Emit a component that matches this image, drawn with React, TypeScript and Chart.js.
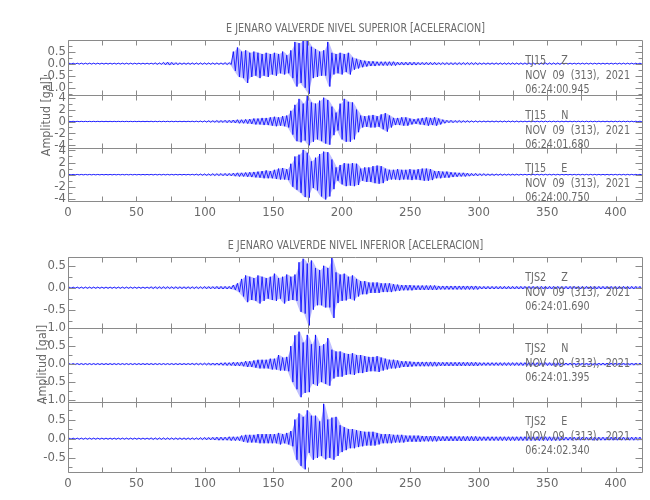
import React, { useEffect, useRef } from "react";
import { Chart, registerables } from "chart.js";

Chart.register(...registerables);

// ---------- data (3-second bins: max / min acceleration read from the records) ----------
const BIN_SECONDS = 3;
const X_MIN = 0;
const X_MAX = 420;
const X_LABEL_STEP = 50;
const X_TICK_STEP = 25;

const UPPER_TITLE = "E JENARO VALVERDE NIVEL SUPERIOR [ACELERACION]";
const LOWER_TITLE = "E JENARO VALVERDE NIVEL INFERIOR [ACELERACION]";
const Y_LABEL = "Amplitud [gal]";

const UPPER_STATION = "TJ15";
const LOWER_STATION = "TJS2";
const COMPONENTS = ["Z", "N", "E"];
const DATE_LINE = "NOV  09  (313),  2021";
const UPPER_TIMES = ["06:24:00.945", "06:24:01.680", "06:24:00.750"];
const LOWER_TIMES = ["06:24:01.690", "06:24:01.395", "06:24:02.340"];

const UPPER_Z_MAX = [
  .02,.02,.02,.02,.02,.02,.02,.02,.02,.02,
  .02,.02,.02,.02,.02,.02,.02,.02,.02,.02,
  .02,.03,.03,.05,.06,.05,.04,.03,.03,.03,
  .03,.03,.03,.03,.03,.03,.03,.03,.04,.04,
  .5,.67,.5,.55,.45,.5,.45,.4,.45,.4,
  .45,.4,.5,.35,.55,.9,.85,.95,.97,.7,
  .6,.5,.55,.9,.45,.4,.45,.4,.45,.25,
  .2,.15,.12,.1,.1,.08,.08,.08,.08,.08,
  .06,.06,.06,.06,.06,.05,.05,.05,.05,.05,
  .04,.04,.04,.04,.04,.04,.04,.04,.04,.04,
  .03,.03,.03,.03,.03,.03,.03,.03,.03,.03,
  .03,.03,.03,.03,.03,.03,.03,.03,.03,.03,
  .02,.02,.02,.02,.02,.02,.02,.02,.02,.02,
  .02,.02,.02,.02,.02,.02,.02,.02,.02,.02,
];
const UPPER_Z_MIN = [
  -.02,-.02,-.02,-.02,-.02,-.02,-.02,-.02,-.02,-.02,
  -.02,-.02,-.02,-.02,-.02,-.02,-.02,-.02,-.02,-.02,
  -.02,-.03,-.03,-.05,-.06,-.05,-.04,-.03,-.03,-.03,
  -.03,-.03,-.03,-.03,-.03,-.03,-.03,-.03,-.04,-.04,
  -.3,-.55,-.6,-.8,-.55,-.5,-.6,-.5,-.55,-.45,
  -.5,-.4,-.45,-.4,-.6,-.95,-.8,-1.0,-1.25,-.6,
  -.55,-.5,-.5,-.95,-.45,-.4,-.45,-.35,-.45,-.25,
  -.2,-.15,-.12,-.1,-.1,-.08,-.08,-.08,-.08,-.08,
  -.06,-.06,-.06,-.06,-.06,-.05,-.05,-.05,-.05,-.05,
  -.04,-.04,-.04,-.04,-.04,-.04,-.04,-.04,-.04,-.04,
  -.03,-.03,-.03,-.03,-.03,-.03,-.03,-.03,-.03,-.03,
  -.03,-.03,-.03,-.03,-.03,-.03,-.03,-.03,-.03,-.03,
  -.02,-.02,-.02,-.02,-.02,-.02,-.02,-.02,-.02,-.02,
  -.02,-.02,-.02,-.02,-.02,-.02,-.02,-.02,-.02,-.02,
];

const UPPER_N_MAX = [
  .03,.03,.03,.03,.03,.03,.03,.03,.03,.03,
  .03,.03,.03,.03,.03,.03,.03,.03,.03,.03,
  .04,.04,.04,.04,.04,.04,.04,.04,.04,.04,
  .05,.06,.08,.1,.12,.12,.15,.15,.2,.2,
  .25,.3,.3,.35,.4,.5,.5,.6,.6,.7,
  .8,.7,.9,1.0,1.8,2.8,3.8,3.0,4.4,3.2,
  3.0,3.5,4.0,3.6,2.5,1.5,3.0,3.8,3.3,3.2,
  2.0,1.0,.9,1.0,1.1,.9,1.2,1.4,1.0,.6,
  .6,.7,.7,.5,.4,.5,.6,.7,.6,.7,
  .5,.3,.2,.2,.15,.15,.12,.12,.1,.1,
  .08,.08,.08,.08,.08,.08,.08,.08,.08,.08,
  .06,.06,.06,.06,.06,.06,.06,.06,.06,.06,
  .05,.05,.05,.05,.05,.05,.05,.05,.05,.05,
  .05,.05,.05,.05,.05,.05,.05,.05,.05,.05,
];
const UPPER_N_MIN = [
  -.03,-.03,-.03,-.03,-.03,-.03,-.03,-.03,-.03,-.03,
  -.03,-.03,-.03,-.03,-.03,-.03,-.03,-.03,-.03,-.03,
  -.04,-.04,-.04,-.04,-.04,-.04,-.04,-.04,-.04,-.04,
  -.05,-.06,-.08,-.1,-.12,-.12,-.15,-.15,-.2,-.2,
  -.25,-.3,-.3,-.35,-.4,-.5,-.5,-.6,-.6,-.7,
  -.8,-.7,-.8,-1.0,-2.2,-3.3,-3.5,-3.2,-4.0,-3.4,
  -3.0,-3.3,-3.7,-3.9,-2.3,-1.5,-3.0,-3.4,-3.4,-3.0,
  -1.8,-1.0,-.9,-1.0,-1.0,-.9,-1.3,-1.7,-1.0,-.6,
  -.6,-.7,-.7,-.5,-.4,-.5,-.6,-.7,-.6,-.7,
  -.5,-.3,-.2,-.2,-.15,-.15,-.12,-.12,-.1,-.1,
  -.08,-.08,-.08,-.08,-.08,-.08,-.08,-.08,-.08,-.08,
  -.06,-.06,-.06,-.06,-.06,-.06,-.06,-.06,-.06,-.06,
  -.05,-.05,-.05,-.05,-.05,-.05,-.05,-.05,-.05,-.05,
  -.05,-.05,-.05,-.05,-.05,-.05,-.05,-.05,-.05,-.05,
];

const UPPER_E_MAX = [
  .04,.04,.04,.04,.04,.04,.04,.04,.04,.04,
  .04,.04,.04,.04,.04,.04,.04,.04,.04,.04,
  .05,.05,.05,.05,.05,.05,.05,.05,.05,.05,
  .06,.08,.1,.12,.12,.15,.15,.18,.2,.2,
  .25,.3,.3,.35,.4,.45,.5,.6,.7,.6,
  .8,1.0,1.1,.9,1.8,3.0,3.3,4.1,3.6,2.2,
  2.8,3.4,3.8,3.7,2.5,1.2,1.6,1.9,1.8,1.9,
  1.8,1.0,1.2,1.2,1.4,1.5,1.4,1.0,.8,.8,
  .9,.8,.8,.9,.8,.9,1.0,1.0,.9,.6,
  .6,.5,.5,.4,.35,.3,.3,.25,.2,.2,
  .15,.15,.12,.12,.1,.1,.08,.08,.08,.08,
  .06,.06,.06,.06,.06,.06,.06,.06,.06,.06,
  .05,.05,.05,.05,.05,.05,.05,.05,.05,.05,
  .05,.05,.05,.05,.05,.05,.05,.05,.05,.05,
];
const UPPER_E_MIN = [
  -.04,-.04,-.04,-.04,-.04,-.04,-.04,-.04,-.04,-.04,
  -.04,-.04,-.04,-.04,-.04,-.04,-.04,-.04,-.04,-.04,
  -.05,-.05,-.05,-.05,-.05,-.05,-.05,-.05,-.05,-.05,
  -.06,-.08,-.1,-.12,-.12,-.15,-.15,-.18,-.2,-.2,
  -.25,-.3,-.3,-.35,-.4,-.45,-.5,-.6,-.6,-.6,
  -.7,-.8,-.8,-.9,-2.0,-2.5,-3.0,-3.7,-3.8,-2.2,
  -2.6,-3.6,-4.1,-3.6,-2.4,-1.0,-1.6,-1.9,-1.8,-1.9,
  -1.7,-1.0,-1.2,-1.2,-1.4,-1.5,-1.4,-1.0,-.8,-.8,
  -.9,-.8,-.8,-.9,-.8,-.9,-1.0,-1.0,-.9,-.6,
  -.6,-.5,-.5,-.4,-.35,-.3,-.3,-.25,-.2,-.2,
  -.15,-.15,-.12,-.12,-.1,-.1,-.08,-.08,-.08,-.08,
  -.06,-.06,-.06,-.06,-.06,-.06,-.06,-.06,-.06,-.06,
  -.05,-.05,-.05,-.05,-.05,-.05,-.05,-.05,-.05,-.05,
  -.05,-.05,-.05,-.05,-.05,-.05,-.05,-.05,-.05,-.05,
];

const LOWER_Z_MAX = [
  .015,.015,.015,.015,.015,.015,.015,.015,.015,.015,
  .015,.015,.015,.015,.015,.015,.015,.015,.015,.015,
  .02,.02,.02,.02,.02,.02,.02,.02,.02,.02,
  .02,.02,.02,.025,.025,.025,.03,.03,.03,.03,
  .06,.1,.2,.28,.25,.22,.28,.25,.22,.25,
  .32,.22,.25,.3,.25,.3,.58,.66,.55,.62,
  .45,.4,.5,.45,.68,.35,.3,.32,.25,.28,
  .2,.15,.15,.12,.12,.12,.1,.1,.1,.08,
  .07,.06,.06,.06,.05,.05,.05,.05,.05,.05,
  .04,.04,.04,.04,.04,.04,.04,.04,.04,.04,
  .03,.03,.03,.03,.03,.03,.03,.03,.03,.03,
  .03,.03,.03,.03,.03,.03,.03,.03,.03,.03,
  .03,.03,.03,.03,.03,.03,.03,.03,.03,.03,
  .03,.03,.03,.03,.03,.03,.03,.03,.03,.03,
];
const LOWER_Z_MIN = [
  -.015,-.015,-.015,-.015,-.015,-.015,-.015,-.015,-.015,-.015,
  -.015,-.015,-.015,-.015,-.015,-.015,-.015,-.015,-.015,-.015,
  -.02,-.02,-.02,-.02,-.02,-.02,-.02,-.02,-.02,-.02,
  -.02,-.02,-.02,-.025,-.025,-.025,-.03,-.03,-.03,-.03,
  -.05,-.1,-.2,-.33,-.28,-.3,-.36,-.3,-.25,-.28,
  -.3,-.25,-.36,-.3,-.28,-.3,-.55,-.59,-.86,-.5,
  -.4,-.4,-.45,-.45,-.69,-.35,-.3,-.29,-.25,-.29,
  -.2,-.15,-.15,-.12,-.12,-.12,-.1,-.1,-.1,-.08,
  -.07,-.06,-.06,-.06,-.05,-.05,-.05,-.05,-.05,-.05,
  -.04,-.04,-.04,-.04,-.04,-.04,-.04,-.04,-.04,-.04,
  -.03,-.03,-.03,-.03,-.03,-.03,-.03,-.03,-.03,-.03,
  -.03,-.03,-.03,-.03,-.03,-.03,-.03,-.03,-.03,-.03,
  -.03,-.03,-.03,-.03,-.03,-.03,-.03,-.03,-.03,-.03,
  -.03,-.03,-.03,-.03,-.03,-.03,-.03,-.03,-.03,-.03,
];

const LOWER_N_MAX = [
  .015,.015,.015,.015,.015,.015,.015,.015,.015,.015,
  .015,.015,.015,.015,.015,.015,.015,.015,.015,.015,
  .015,.015,.015,.015,.015,.015,.015,.015,.015,.015,
  .02,.02,.02,.025,.03,.03,.03,.035,.04,.04,
  .05,.05,.06,.08,.08,.1,.12,.12,.12,.15,
  .15,.25,.18,.2,.5,.8,.9,.6,.81,.55,
  .81,.5,.55,.72,.4,.35,.35,.3,.28,.3,
  .25,.25,.22,.2,.2,.22,.18,.15,.12,.12,
  .1,.08,.08,.07,.06,.06,.06,.06,.06,.06,
  .05,.05,.05,.05,.05,.05,.05,.05,.05,.05,
  .04,.04,.04,.04,.04,.04,.04,.04,.04,.04,
  .04,.04,.04,.04,.04,.04,.04,.04,.04,.04,
  .03,.03,.03,.03,.03,.03,.03,.03,.03,.03,
  .03,.03,.03,.03,.03,.03,.03,.03,.03,.03,
];
const LOWER_N_MIN = [
  -.015,-.015,-.015,-.015,-.015,-.015,-.015,-.015,-.015,-.015,
  -.015,-.015,-.015,-.015,-.015,-.015,-.015,-.015,-.015,-.015,
  -.015,-.015,-.015,-.015,-.015,-.015,-.015,-.015,-.015,-.015,
  -.02,-.02,-.02,-.025,-.03,-.03,-.03,-.035,-.04,-.04,
  -.05,-.05,-.06,-.08,-.08,-.1,-.12,-.12,-.12,-.15,
  -.15,-.18,-.18,-.2,-.5,-.7,-.92,-.8,-.78,-.55,
  -.6,-.5,-.55,-.6,-.4,-.35,-.35,-.3,-.28,-.3,
  -.25,-.25,-.22,-.2,-.2,-.22,-.18,-.15,-.12,-.12,
  -.1,-.08,-.08,-.07,-.06,-.06,-.06,-.06,-.06,-.06,
  -.05,-.05,-.05,-.05,-.05,-.05,-.05,-.05,-.05,-.05,
  -.04,-.04,-.04,-.04,-.04,-.04,-.04,-.04,-.04,-.04,
  -.04,-.04,-.04,-.04,-.04,-.04,-.04,-.04,-.04,-.04,
  -.03,-.03,-.03,-.03,-.03,-.03,-.03,-.03,-.03,-.03,
  -.03,-.03,-.03,-.03,-.03,-.03,-.03,-.03,-.03,-.03,
];

const LOWER_E_MAX = [
  .015,.015,.015,.015,.015,.015,.015,.015,.015,.015,
  .015,.015,.015,.015,.015,.015,.015,.015,.015,.015,
  .02,.02,.02,.02,.02,.02,.02,.02,.02,.02,
  .02,.02,.025,.03,.03,.035,.04,.04,.04,.05,
  .05,.05,.08,.1,.1,.1,.12,.12,.12,.12,
  .12,.15,.12,.15,.2,.5,.66,.57,.74,.6,
  .6,.45,.91,.5,.55,.57,.35,.3,.25,.25,
  .22,.2,.18,.18,.18,.15,.12,.12,.12,.1,
  .1,.1,.08,.08,.08,.08,.07,.07,.07,.07,
  .06,.06,.06,.06,.06,.06,.06,.06,.06,.06,
  .05,.05,.05,.05,.05,.05,.05,.05,.05,.05,
  .05,.05,.05,.05,.05,.05,.05,.05,.05,.05,
  .04,.04,.04,.04,.04,.04,.04,.04,.04,.04,
  .04,.04,.04,.04,.04,.04,.04,.04,.04,.04,
];
const LOWER_E_MIN = [
  -.015,-.015,-.015,-.015,-.015,-.015,-.015,-.015,-.015,-.015,
  -.015,-.015,-.015,-.015,-.015,-.015,-.015,-.015,-.015,-.015,
  -.02,-.02,-.02,-.02,-.02,-.02,-.02,-.02,-.02,-.02,
  -.02,-.02,-.025,-.03,-.03,-.035,-.04,-.04,-.04,-.05,
  -.05,-.05,-.08,-.1,-.1,-.1,-.12,-.12,-.12,-.12,
  -.12,-.15,-.12,-.15,-.2,-.55,-.71,-.8,-.37,-.55,
  -.5,-.45,-.54,-.5,-.55,-.45,-.35,-.3,-.25,-.25,
  -.22,-.2,-.18,-.18,-.18,-.15,-.12,-.12,-.12,-.1,
  -.1,-.1,-.08,-.08,-.08,-.08,-.07,-.07,-.07,-.07,
  -.06,-.06,-.06,-.06,-.06,-.06,-.06,-.06,-.06,-.06,
  -.05,-.05,-.05,-.05,-.05,-.05,-.05,-.05,-.05,-.05,
  -.05,-.05,-.05,-.05,-.05,-.05,-.05,-.05,-.05,-.05,
  -.04,-.04,-.04,-.04,-.04,-.04,-.04,-.04,-.04,-.04,
  -.04,-.04,-.04,-.04,-.04,-.04,-.04,-.04,-.04,-.04,
];

// axis ranges and tick steps per panel
const UPPER_RANGES = [
  { min: -1.3, max: 0.98, step: 0.5, digits: 1 },
  { min: -4.45, max: 4.45, step: 2, digits: 0 },
  { min: -4.35, max: 4.4, step: 2, digits: 0 },
];
const LOWER_RANGES = [
  { min: -0.92, max: 0.7, step: 0.5, digits: 1 },
  { min: -1.04, max: 1.0, step: 0.5, digits: 1 },
  { min: -0.87, max: 0.97, step: 0.5, digits: 1 },
];

// ---------- styling ----------
const FONT = '"Liberation Sans Narrow", "DejaVu Sans Condensed", "Arial Narrow", sans-serif';
const TEXT_COLOR = "#6a6a6a";
const FRAME_COLOR = "#8a8a8a";
const TRACE_COLOR = "#0000ff";
const ENVELOPE_FILL = "rgba(60, 60, 255, 0.32)";
const NOTE_AT_SECONDS = 334;
const NOTE_OFFSETS = [20.5, 35.5, 49.5];
const TEXT_SQUEEZE = 0.82;

function tracePoints(maxs: number[], mins: number[]) {
  const pts: { x: number; y: number }[] = [];
  maxs.forEach((hi, i) => {
    const t0 = i * BIN_SECONDS;
    pts.push({ x: t0 + BIN_SECONDS * 0.25, y: hi });
    pts.push({ x: t0 + BIN_SECONDS * 0.75, y: mins[i] });
  });
  return pts;
}

function envelopePoints(values: number[]) {
  return values.map((v, i) => ({ x: i * BIN_SECONDS + BIN_SECONDS * 0.5, y: v }));
}

type Panel = {
  id: string;
  max: number[];
  min: number[];
  range: { min: number; max: number; step: number; digits: number };
  notes: string[];
  weight: number;
};

type Group = {
  title: string;
  panels: Panel[];
  canvasTop: number;
  canvasHeight: number;
  padTop: number;
  padBottom: number;
  labelX: number;
  labelDy: number;
};

function makeGroup(
  title: string,
  station: string,
  times: string[],
  series: [number[], number[]][],
  ranges: typeof UPPER_RANGES,
  weights: number[],
  canvasTop: number,
  canvasHeight: number,
  padTop: number,
  padBottom: number,
  labelX: number,
  labelDy: number
): Group {
  return {
    title,
    canvasTop,
    canvasHeight,
    padTop,
    padBottom,
    labelX,
    labelDy,
    panels: series.map(([mx, mn], k) => ({
      id: "y" + COMPONENTS[k],
      max: mx,
      min: mn,
      range: ranges[k],
      notes: [station + "     " + COMPONENTS[k], DATE_LINE, times[k]],
      weight: weights[k],
    })),
  };
}

const UPPER_GROUP = makeGroup(
  UPPER_TITLE,
  UPPER_STATION,
  UPPER_TIMES,
  [
    [UPPER_Z_MAX, UPPER_Z_MIN],
    [UPPER_N_MAX, UPPER_N_MIN],
    [UPPER_E_MAX, UPPER_E_MIN],
  ],
  UPPER_RANGES,
  [55, 53, 53],
  0,
  225,
  40,
  2,
  47,
  -4
);

const LOWER_GROUP = makeGroup(
  LOWER_TITLE,
  LOWER_STATION,
  LOWER_TIMES,
  [
    [LOWER_Z_MAX, LOWER_Z_MIN],
    [LOWER_N_MAX, LOWER_N_MIN],
    [LOWER_E_MAX, LOWER_E_MIN],
  ],
  LOWER_RANGES,
  [71.3, 73.7, 70.7],
  225,
  275,
  32,
  6,
  43,
  0
);

function squeezedText(ctx: CanvasRenderingContext2D, text: string, x: number, y: number, sx: number) {
  ctx.save();
  ctx.translate(x, y);
  ctx.scale(sx, 1);
  ctx.fillText(text, 0, 0);
  ctx.restore();
}

function framePlugin(group: Group) {
  return {
    id: "panelFrame",
    afterDraw(chart: any) {
      const { ctx, chartArea } = chart;
      const xs = chart.scales.x;
      const L = Math.round(chartArea.left) + 0.5;
      const R = Math.round(chartArea.right) - 0.5;
      ctx.save();
      ctx.strokeStyle = FRAME_COLOR;
      ctx.lineWidth = 1;
      group.panels.forEach((p) => {
        const ys = chart.scales[p.id];
        const T = Math.round(ys.top) + 0.5;
        const B = Math.round(ys.bottom) + 0.5;
        ctx.beginPath();
        ctx.rect(L, T, R - L, B - T);
        for (let v = X_MIN; v <= X_MAX; v += X_TICK_STEP) {
          const px = Math.round(xs.getPixelForValue(v)) + 0.5;
          ctx.moveTo(px, T);
          ctx.lineTo(px, T + 5);
          ctx.moveTo(px, B);
          ctx.lineTo(px, B - 5);
        }
        const minor = p.range.step / 2;
        for (let v = Math.ceil(p.range.min / minor) * minor; v <= p.range.max + 1e-9; v += minor) {
          const py = Math.round(ys.getPixelForValue(v)) + 0.5;
          const q = v / p.range.step;
          const isMajor = Math.abs(q - Math.round(q)) < 1e-6;
          const len = isMajor ? 7 : 4;
          ctx.moveTo(L, py);
          ctx.lineTo(L + len, py);
          ctx.moveTo(R, py);
          ctx.lineTo(R - len, py);
        }
        ctx.stroke();

        ctx.fillStyle = TEXT_COLOR;
        ctx.font = "13px " + FONT;
        ctx.textAlign = "left";
        ctx.textBaseline = "middle";
        const ax = xs.getPixelForValue(NOTE_AT_SECONDS);
        p.notes.forEach((line, j) => squeezedText(ctx, line, ax, ys.top + NOTE_OFFSETS[j], TEXT_SQUEEZE));
      });

      ctx.fillStyle = TEXT_COLOR;
      ctx.font = "13px " + FONT;
      ctx.textAlign = "center";
      ctx.textBaseline = "middle";
      squeezedText(ctx, group.title, (chartArea.left + chartArea.right) / 2, chartArea.top - 11.5, TEXT_SQUEEZE);

      ctx.font = "13px " + FONT;
      ctx.translate(group.labelX, (chartArea.top + chartArea.bottom) / 2 + group.labelDy);
      ctx.rotate(-Math.PI / 2);
      squeezedText(ctx, Y_LABEL, 0, 0, 0.95);
      ctx.restore();
    },
  };
}

function buildConfig(group: Group): any {
  const scales: any = {
    x: {
      type: "linear",
      position: "bottom",
      min: X_MIN,
      max: X_MAX,
      grid: { display: false, drawTicks: false },
      border: { display: false },
      ticks: {
        stepSize: X_LABEL_STEP,
        includeBounds: false,
        autoSkip: false,
        maxRotation: 0,
        padding: 4,
        color: TEXT_COLOR,
        font: { family: FONT, size: 13 },
        callback: (v: number) => String(v),
      },
      afterFit: (s: any) => {
        s.height = 22;
      },
    },
  };
  group.panels.forEach((p, k) => {
    scales[p.id] = {
      type: "linear",
      position: "left",
      stack: "panels",
      stackWeight: p.weight,
      weight: 10 - k,
      min: p.range.min,
      max: p.range.max,
      grid: { display: false, drawTicks: false },
      border: { display: false },
      ticks: {
        stepSize: p.range.step,
        includeBounds: false,
        autoSkip: false,
        padding: 2,
        color: TEXT_COLOR,
        font: { family: FONT, size: 13 },
        callback: (v: number) => Number(v).toFixed(p.range.digits),
      },
      afterFit: (s: any) => {
        s.width = 68;
      },
    };
  });
  const datasets: any[] = [];
  group.panels.forEach((p) => {
    datasets.push({
      data: envelopePoints(p.max),
      yAxisID: p.id,
      xAxisID: "x",
      borderWidth: 0,
      borderColor: "rgba(0,0,0,0)",
      backgroundColor: ENVELOPE_FILL,
      pointRadius: 0,
      tension: 0,
      fill: "+1",
    });
    datasets.push({
      data: envelopePoints(p.min),
      yAxisID: p.id,
      xAxisID: "x",
      borderWidth: 0,
      borderColor: "rgba(0,0,0,0)",
      pointRadius: 0,
      tension: 0,
      fill: false,
    });
    datasets.push({
      data: tracePoints(p.max, p.min),
      yAxisID: p.id,
      xAxisID: "x",
      borderColor: TRACE_COLOR,
      borderWidth: 0.9,
      pointRadius: 0,
      tension: 0,
      fill: false,
    });
  });
  return {
    type: "line",
    data: { datasets },
    options: {
      animation: false,
      responsive: false,
      maintainAspectRatio: false,
      events: [],
      layout: { padding: { top: group.padTop, right: 7, bottom: group.padBottom, left: 0 } },
      plugins: {
        legend: { display: false },
        tooltip: { enabled: false },
        title: { display: false },
      },
      scales,
    },
    plugins: [framePlugin(group)],
  };
}

function GroupChart({ group }: { group: Group }) {
  const ref = useRef<HTMLCanvasElement>(null);
  useEffect(() => {
    const chart = new Chart(ref.current as HTMLCanvasElement, buildConfig(group));
    return () => chart.destroy();
  }, [group]);
  return (
    <canvas
      ref={ref}
      width={650}
      height={group.canvasHeight}
      style={{ position: "absolute", left: 0, top: group.canvasTop, width: 650, height: group.canvasHeight }}
    />
  );
}

export default function App() {
  return (
    <div style={{ position: "absolute", left: 0, top: 0, width: 650, height: 500, background: "#ffffff" }}>
      <GroupChart group={UPPER_GROUP} />
      <GroupChart group={LOWER_GROUP} />
    </div>
  );
}
